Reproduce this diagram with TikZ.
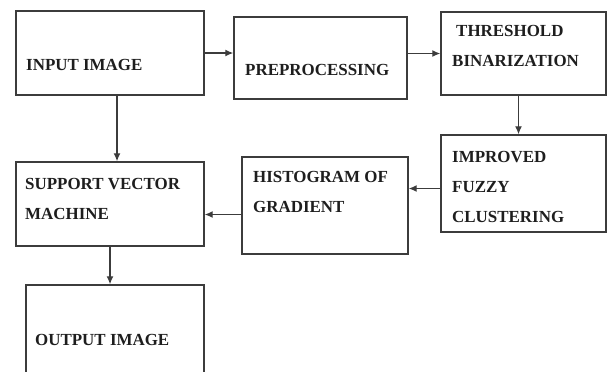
\documentclass[tikz,border=0pt]{standalone}
\usepackage{fontspec}
\setmainfont{Liberation Serif}
\usepackage{tikz}
\usetikzlibrary{arrows.meta, positioning, calc}
\definecolor{line1}{RGB}{60, 60, 60}
\definecolor{text1}{RGB}{30, 30, 30}

\begin{document}
\begin{tikzpicture}[x=1bp, y=-1bp,
  box/.style={draw=line1, line width=1.4bp, fill=white, inner sep=0pt},
  lbl/.style={anchor=west, inner sep=0pt, align=left, text=text1, font=\fontsize{17}{30}\selectfont\bfseries},
  arr/.style={draw=line1, line width=1.3bp, -{Latex[length=8bp, width=7bp]}}]
  \useasboundingbox (0,0) rectangle (608,371);

  \node[box, minimum width=188bp, minimum height=84bp] (input) at (110,53) {};
  \node[box, minimum width=173bp, minimum height=82bp] (prep) at (320.5,58) {};
  \node[box, minimum width=165bp, minimum height=83bp] (thresh) at (523.5,53.5) {};
  \node[box, minimum width=165bp, minimum height=97bp] (fuzzy) at (523.5,183.5) {};
  \node[box, minimum width=166bp, minimum height=97bp] (hog) at (325,205.5) {};
  \node[box, minimum width=188bp, minimum height=84bp] (svm) at (110,204) {};
  \node[box, minimum width=178bp, minimum height=107bp] (output) at (115,338.5) {};

  \node[lbl] (inputtxt) at (26,65) {INPUT IMAGE};
  \node[lbl] (preptxt) at (245,70) {PREPROCESSING};
  \node[lbl] (threshtxt) at (452,46) {\hspace{4bp}THRESHOLD\\BINARIZATION};
  \node[lbl] (fuzzytxt) at (452,187) {IMPROVED\\FUZZY\\CLUSTERING};
  \node[lbl] (hogtxt) at (253,192) {HISTOGRAM OF\\GRADIENT};
  \node[lbl] (svmtxt) at (25,199) {SUPPORT VECTOR\\MACHINE};
  \node[lbl] (outputtxt) at (35,340) {OUTPUT IMAGE};

  \draw[arr] (input.east) -- (input.east -| prep.west);
  \draw[arr] (prep.east |- thresh.west) -- (thresh.west);
  \draw[arr] ([xshift=-5bp]thresh.south) -- ([xshift=-5bp]fuzzy.north);
  \draw[arr] ([yshift=-5bp]fuzzy.west) -- ([yshift=-5bp]fuzzy.west -| hog.east);
  \draw[arr] ([yshift=-9bp]hog.west) -- ([yshift=-9bp]hog.west -| svm.east);
  \draw[arr] ([xshift=7bp]input.south) -- ([xshift=7bp]input.south |- svm.north);
  \draw[arr] (svm.south) -- (svm.south |- output.north);
\end{tikzpicture}
\end{document}
